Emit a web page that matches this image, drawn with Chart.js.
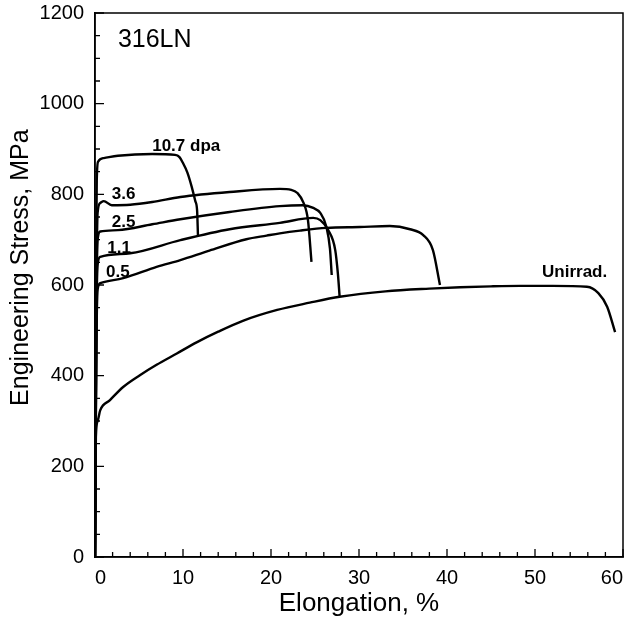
<!DOCTYPE html>
<html>
<head>
<meta charset="utf-8">
<script src="https://cdn.jsdelivr.net/npm/chart.js@4"></script>
<style>
  html, body { margin: 0; padding: 0; background: #fff; }
  #wrap { width: 627px; height: 623px; }
</style>
</head>
<body>
<div id="wrap"><canvas id="tensile"></canvas></div>
<script>
// elongation (%) and engineering stress (MPa)
const unirrX = [0, 0.05, 0.1, 0.3, 0.6, 1.7, 3.2, 5.1, 7, 9.3, 11.6, 14, 16.8, 20.7, 24.4, 27.8, 33, 38, 41.5, 45, 48.3, 52, 55.9, 57.2, 58.2, 59.1];
const unirrY = [0, 150, 265, 300, 324, 346, 375, 401, 424, 449, 474, 497, 521, 545, 561, 574, 586, 592, 595, 597, 598, 598, 596, 582, 552, 496];

const dpa05X = [0, 0.15, 0.3, 0.6, 3.2, 7, 9.7, 13, 17.2, 19.5, 21, 23.3, 26.3, 30.1, 33.5, 35.8, 37.3, 38.4, 39.2];
const dpa05Y = [0, 450, 590, 604, 615, 640, 655, 676, 701, 709, 714, 720, 726, 728, 730, 723, 710, 677, 600];

const dpa11X = [0, 0.15, 0.3, 0.6, 4, 9.7, 15.3, 21, 24.8, 25.6, 26.5, 27.3, 27.6, 27.8];
const dpa11Y = [0, 500, 645, 662, 670, 699, 723, 737, 748, 743, 721, 677, 625, 574];

const dpa25X = [0, 0.15, 0.3, 0.6, 2.6, 6.5, 9.7, 15.3, 21, 23.6, 24.8, 25.6, 26.3, 26.7, 26.9];
const dpa25Y = [0, 520, 700, 718, 721, 734, 745, 761, 774, 776, 770, 759, 728, 680, 622];

const dpa36X = [0, 0.15, 0.3, 0.6, 1.0, 1.9, 4, 6.5, 9.7, 15.3, 21, 22.3, 23, 23.7, 24.2, 24.6];
const dpa36Y = [0, 550, 760, 781, 785, 776, 777, 783, 794, 805, 812, 810, 803, 781, 743, 651];

const dpa107X = [0, 0.1, 0.2, 0.35, 1, 2.6, 6.5, 9.1, 9.6, 10, 10.5, 11, 11.4, 11.6, 11.7];
const dpa107Y = [0, 600, 830, 872, 880, 885, 889, 887, 882, 869, 848, 816, 785, 765, 710];

const curveNames = ['Unirrad.', '0.5', '1.1', '2.5', '3.6', '10.7 dpa'];
const curveX = [unirrX, dpa05X, dpa11X, dpa25X, dpa36X, dpa107X];
const curveY = [unirrY, dpa05Y, dpa11Y, dpa25Y, dpa36Y, dpa107Y];

// curve labels placed in data units (left edge, vertical middle)
const labelText = ['316LN', '10.7 dpa', '3.6', '2.5', '1.1', '0.5', 'Unirrad.'];
const labelX = [2.6, 6.5, 1.9, 1.9, 1.4, 1.25, 50.8];
const labelY = [1140, 907, 799, 739, 682, 629, 629];

const FONT = '"Liberation Sans", Arial, Helvetica, sans-serif';

const datasets = curveNames.map((name, i) => ({
  label: name,
  data: curveX[i].map((x, j) => ({ x: x, y: curveY[i][j] })),
  borderColor: '#000',
  borderWidth: 2.4,
  pointRadius: 0,
  fill: false,
  cubicInterpolationMode: 'monotone'
}));

const framePlugin = {
  id: 'frame',
  afterDraw(chart) {
    const ctx = chart.ctx;
    const a = chart.chartArea;
    const xs = chart.scales.x, ys = chart.scales.y;
    ctx.save();
    ctx.strokeStyle = '#000';
    ctx.lineWidth = 1.5;
    ctx.strokeRect(a.left, a.top, a.right - a.left, a.bottom - a.top);

    // inward ticks
    ctx.lineWidth = 1.3;
    ctx.beginPath();
    for (let v = 0; v <= 60; v += 2) {
      const px = xs.getPixelForValue(v);
      const len = v % 10 === 0 ? 8 : 5;
      ctx.moveTo(px, a.bottom);
      ctx.lineTo(px, a.bottom - len);
    }
    for (let v = 0; v <= 1200; v += 50) {
      const py = ys.getPixelForValue(v);
      const len = v % 200 === 0 ? 9 : 5;
      ctx.moveTo(a.left, py);
      ctx.lineTo(a.left + len, py);
    }
    ctx.stroke();

    // labels
    ctx.fillStyle = '#000';
    ctx.textBaseline = 'middle';
    ctx.textAlign = 'left';
    labelText.forEach((t, i) => {
      ctx.font = i === 0 ? '25px ' + FONT : 'bold 17px ' + FONT;
      ctx.fillText(t, xs.getPixelForValue(labelX[i]), ys.getPixelForValue(labelY[i]));
    });
    ctx.restore();
  }
};

new Chart(document.getElementById('tensile'), {
  type: 'line',
  data: { datasets: datasets },
  options: {
    responsive: true,
    maintainAspectRatio: false,
    animation: false,
    layout: { padding: { top: 13, right: 4, left: 0, bottom: 0 } },
    plugins: {
      legend: { display: false },
      tooltip: { enabled: false }
    },
    scales: {
      x: {
        type: 'linear',
        min: 0,
        max: 60,
        grid: { display: false, drawTicks: false },
        border: { display: true, color: '#000', width: 1.5 },
        ticks: {
          stepSize: 10,
          align: 'inner',
          padding: 9,
          color: '#000',
          font: { family: FONT, size: 20 }
        },
        title: {
          display: true,
          text: 'Elongation, %',
          color: '#000',
          font: { family: FONT, size: 26 },
          padding: { top: 0, bottom: 4 }
        },
        afterFit(scale) {
          scale.height = 66;
          scale.paddingLeft = 0;
          scale.paddingRight = 0;
        }
      },
      y: {
        min: 0,
        max: 1200,
        grid: { display: false, drawTicks: false },
        border: { display: true, color: '#000', width: 1.5 },
        ticks: {
          stepSize: 200,
          padding: 11,
          color: '#000',
          font: { family: FONT, size: 20 },
          callback: v => String(v)
        },
        title: {
          display: true,
          // leading spaces nudge the rotated title up a little, as in the original
          text: '     Engineering Stress, MPa',
          color: '#000',
          font: { family: FONT, size: 25 },
          padding: { top: 6, bottom: 0 }
        },
        afterFit(scale) {
          scale.width = 95;
          scale.paddingTop = 0;
          scale.paddingBottom = 0;
        }
      }
    }
  },
  plugins: [framePlugin]
});
</script>
</body>
</html>
